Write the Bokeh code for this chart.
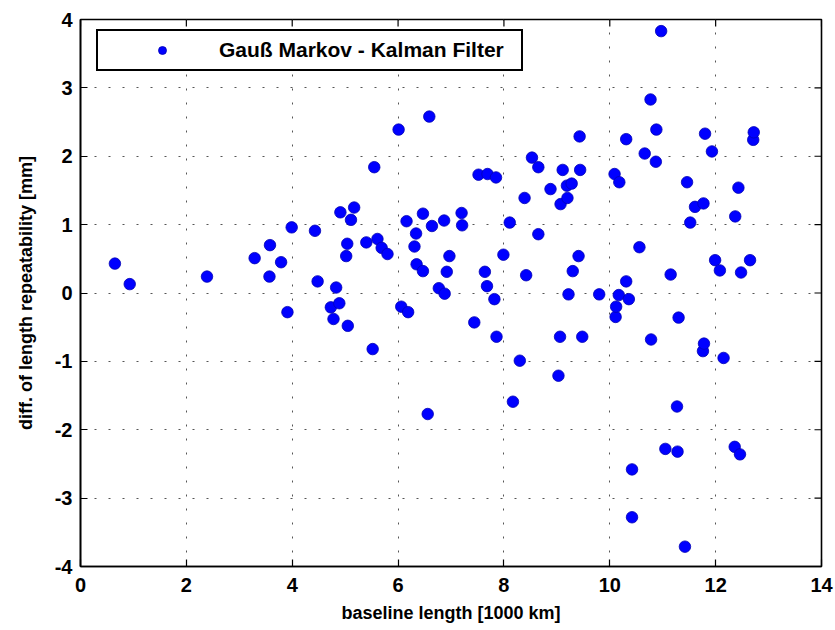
import math
from bokeh.plotting import figure
from bokeh.models import Legend, LegendItem, FixedTicker
from bokeh.embed import file_html
from bokeh.resources import INLINE

baseline_km = [0.65, 0.93, 2.39, 3.29, 3.58, 3.57, 3.79, 3.91, 3.99, 4.43,
               4.48, 4.73, 4.78, 4.83, 4.89, 4.91, 5.02, 5.04, 5.05, 5.11,
               5.17, 5.40, 5.52, 5.55, 5.61, 5.69, 5.80, 6.01, 6.06, 6.16,
               6.19, 6.31, 6.34, 6.35, 6.47, 6.47, 6.56, 6.59, 6.64, 6.77,
               6.87, 6.88, 6.92, 6.97, 7.20, 7.21, 7.44, 7.52, 7.64, 7.68,
               7.69, 7.82, 7.85, 7.86, 7.99, 8.11, 8.17, 8.30, 8.39, 8.42,
               8.53, 8.65, 8.65, 8.88, 9.03, 9.06, 9.07, 9.11, 9.19, 9.20,
               9.22, 9.28, 9.30, 9.41, 9.43, 9.44, 9.48, 9.80, 10.09, 10.11,
               10.12, 10.17, 10.18, 10.31, 10.31, 10.36, 10.42, 10.42, 10.56, 10.66,
               10.77, 10.78, 10.87, 10.88, 10.97, 11.05, 11.15, 11.27, 11.28, 11.30,
               11.42, 11.46, 11.52, 11.61, 11.76, 11.77, 11.78, 11.80, 11.93, 11.99,
               12.08, 12.15, 12.36, 12.37, 12.43, 12.46, 12.48, 12.65, 12.71, 12.72]
diff_mm = [0.43, 0.13, 0.24, 0.51, 0.70, 0.24, 0.45, -0.28, 0.96, 0.91,
           0.17, -0.21, -0.38, 0.08, -0.15, 1.18, 0.54, 0.72, -0.48, 1.07,
           1.25, 0.74, -0.82, 1.84, 0.79, 0.66, 0.57, 2.39, -0.20, 1.05,
           -0.28, 0.68, 0.87, 0.42, 1.16, 0.32, -1.77, 2.58, 0.98, 0.07,
           1.06, -0.01, 0.31, 0.54, 1.17, 0.99, -0.43, 1.73, 0.31, 0.10,
           1.74, -0.09, 1.69, -0.64, 0.56, 1.03, -1.59, -0.99, 1.39, 0.26,
           1.98, 1.84, 0.86, 1.52, -1.21, -0.64, 1.30, 1.80, 1.57, 1.39,
           -0.02, 1.60, 0.32, 0.54, 2.29, 1.80, -0.64, -0.02, 1.74, -0.35,
           -0.20, -0.03, 1.62, 2.25, 0.17, -0.09, -2.58, -3.28, 0.67, 2.04,
           2.83, -0.68, 1.92, 2.39, 3.83, -2.28, 0.27, -1.66, -2.32, -0.36,
           -3.71, 1.62, 1.03, 1.26, -0.85, 1.31, -0.74, 2.33, 2.07, 0.48,
           0.33, -0.95, -2.25, 1.12, 1.54, -2.36, 0.30, 0.48, 2.24, 2.35]

x_ticks = [0, 2, 4, 6, 8, 10, 12, 14]
y_ticks = [-4, -3, -2, -1, 0, 1, 2, 3, 4]
series_label = "Gauß Markov - Kalman Filter"
x_title = "baseline length [1000 km]"
y_title = "diff. of length repeatability [mm]"

FONT = "Liberation Sans"
x_lo, x_hi = min(x_ticks), max(x_ticks)
y_lo, y_hi = min(y_ticks), max(y_ticks)

p = figure(width=835, height=630, output_backend="svg", toolbar_location=None,
           x_range=(x_lo, x_hi), y_range=(y_lo, y_hi),
           min_border_left=80, min_border_right=14, min_border_top=19, min_border_bottom=64)
p.background_fill_color = "white"
p.border_fill_color = "white"
p.outline_line_color = "black"
p.outline_line_alpha = 1
p.outline_line_width = 1.6

# grid (dotted)
p.xgrid.ticker = FixedTicker(ticks=x_ticks)
p.ygrid.ticker = FixedTicker(ticks=y_ticks)
for g in (p.xgrid[0], p.ygrid[0]):
    g.grid_line_color = "#555555"
    g.grid_line_width = 1
    g.grid_line_dash = "2 12"

r = p.scatter(baseline_km, diff_mm, size=11.5, fill_color="#0000ff",
              line_color="#0000b4", line_width=0.8)

for ax in (p.xaxis[0], p.yaxis[0]):
    ax.major_label_text_font = FONT
    ax.major_label_text_font_style = "bold"
    ax.major_label_text_font_size = "20px"
    ax.major_label_text_color = "black"
    ax.axis_label_text_font = FONT
    ax.axis_label_text_font_style = "bold"
    ax.axis_label_text_font_size = "18px"
    ax.axis_label_text_color = "black"
    ax.axis_line_color = "black"
    ax.axis_line_width = 1.6
    ax.major_tick_in = 7
    ax.major_tick_out = 0
    ax.major_tick_line_width = 1.2
    ax.minor_tick_line_color = None

p.xaxis[0].ticker = FixedTicker(ticks=x_ticks)
p.yaxis[0].ticker = FixedTicker(ticks=y_ticks)
p.xaxis[0].major_label_overrides = {t: str(t) for t in x_ticks}
p.yaxis[0].major_label_overrides = {t: str(t) for t in y_ticks}
p.xaxis[0].axis_label = x_title
p.yaxis[0].axis_label = y_title
p.xaxis[0].major_label_standoff = 11
p.yaxis[0].major_label_standoff = 8
p.xaxis[0].axis_label_standoff = 8
p.yaxis[0].axis_label_standoff = 16

# inward ticks on the top and right edges of the box
p.ray(x=x_ticks, y=[y_hi] * len(x_ticks), length=7, length_units="screen",
      angle=-math.pi / 2, line_color="black", line_width=1.2)
p.ray(x=[x_hi] * len(y_ticks), y=y_ticks, length=7, length_units="screen",
      angle=math.pi, line_color="black", line_width=1.2)

legend = Legend(items=[LegendItem(label=series_label, renderers=[r])],
                location=(16, 495))
legend.label_text_font = FONT
legend.label_text_font_style = "bold"
legend.label_text_font_size = "21px"
legend.label_text_color = "black"
legend.border_line_color = "black"
legend.border_line_alpha = 1
legend.border_line_width = 2
legend.background_fill_color = "white"
legend.background_fill_alpha = 1
legend.padding = 7
legend.glyph_width = 114
legend.glyph_height = 20
legend.label_height = 20
legend.label_width = 295
legend.label_standoff = 0
legend.margin = 0
p.add_layout(legend, "center")

open("out.html", "w").write(file_html(p, INLINE))
